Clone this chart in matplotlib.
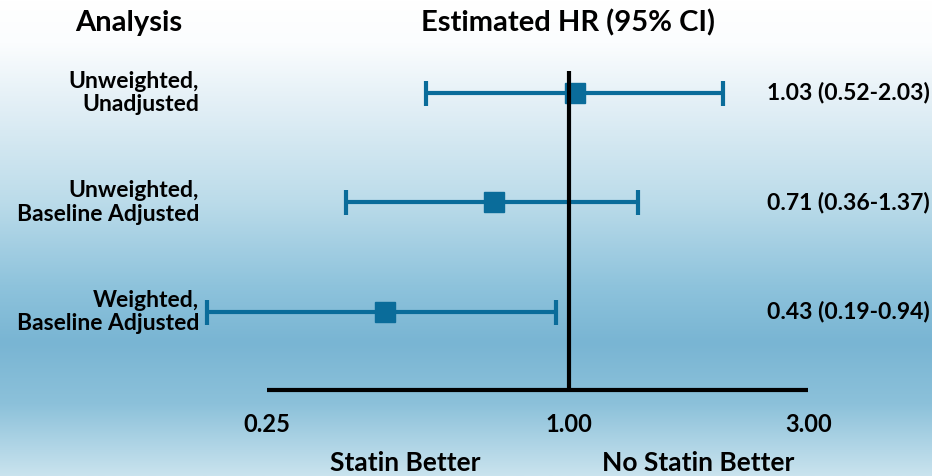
import matplotlib.pyplot as plt
import numpy as np
from matplotlib.colors import LinearSegmentedColormap

# data
analyses = ['Unweighted,\nUnadjusted', 'Unweighted,\nBaseline Adjusted',
            'Weighted,\nBaseline Adjusted']
hr = [1.03, 0.71, 0.43]
lo = [0.52, 0.36, 0.19]
hi = [2.03, 1.37, 0.94]
ticks = [0.25, 1.00, 3.00]

plt.rcParams['font.family'] = ['Lato', 'DejaVu Sans']
plt.rcParams['font.weight'] = 'bold'

W, H = 932, 476
fig = plt.figure(figsize=(W / 100, H / 100), dpi=100)


def px(x):
    # horizontal pixel -> HR value (1.0 at x=569, ~218 px per ln unit)
    return np.exp((x - 569) / 218)


# background gradient
bg = fig.add_axes([0, 0, 1, 1], zorder=0)
cmap = LinearSegmentedColormap.from_list('bg', [
    (0.0, '#ffffff'), (0.09, '#fbfdfe'), (0.2, '#e6f1f7'), (0.42, '#bcdcea'),
    (0.6, '#8ec3dc'), (0.72, '#79b5d3'), (0.85, '#8cc1da'), (1.0, '#c9e3ee')])
bg.imshow(np.linspace(0, 1, 256).reshape(-1, 1), aspect='auto', cmap=cmap,
          extent=[0, 1, 0, 1])
bg.axis('off')

ax = fig.add_axes([0, 0, 1, 1], zorder=1)
ax.patch.set_alpha(0)
ax.set_xscale('log')
ax.set_xlim(px(0), px(W))
ax.set_ylim(3.498, -0.849)
ax.axis('off')

col = '#0a6c9a'
ypos = np.arange(len(hr))
ax.errorbar(hr, ypos, xerr=[np.subtract(hr, lo), np.subtract(hi, hr)],
            fmt='s', color=col, ms=14.5, lw=3, capsize=9, capthick=3, zorder=3)

ax.plot([1, 1], [-0.2, 2.712], color='black', lw=3, zorder=4,
        solid_capstyle='butt')
ax.plot([ticks[0], ticks[-1]], [2.712, 2.712], color='black', lw=3,
        solid_capstyle='butt')

for t in ticks:
    ax.text(t, 3.03, f'{t:.2f}', ha='center', va='center', fontsize=17)

for i, lab in enumerate(analyses):
    ax.text(px(199), i, lab, ha='right', va='center', fontsize=16.5,
            linespacing=1.15)
    ax.text(px(930), i, f'{hr[i]:.2f} ({lo[i]:.2f}-{hi[i]:.2f})', ha='right',
            va='center', fontsize=16.5)

ax.text(px(129), -0.64, 'Analysis', ha='center', va='center', fontsize=21)
ax.text(px(568), -0.64, 'Estimated HR (95% CI)', ha='center', va='center',
        fontsize=21)
ax.text(px(405), 3.38, 'Statin Better', ha='center', va='center',
        fontsize=19)
ax.text(px(698), 3.38, 'No Statin Better', ha='center', va='center',
        fontsize=19)

fig.savefig('out.png', dpi=100)
